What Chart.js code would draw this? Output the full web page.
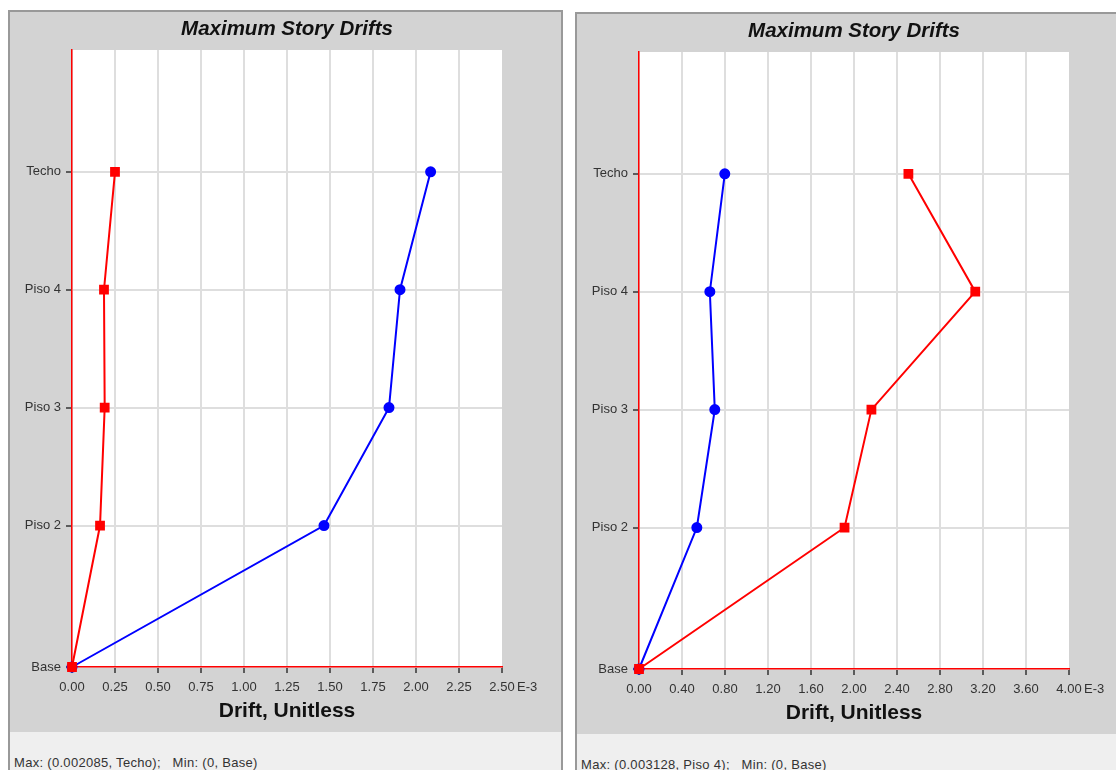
<!DOCTYPE html>
<html>
<head>
<meta charset="utf-8">
<script src="https://cdn.jsdelivr.net/npm/chart.js@4"></script>
<style>
    html, body { margin: 0; padding: 0; background: #fff; }
    body { width: 1116px; height: 770px; overflow: hidden; position: relative; font-family: "Liberation Sans", Arial, sans-serif; }
    .panel { position: absolute; box-sizing: border-box; width: 555px; height: 800px; border: 2px solid #999; border-bottom: none; background: #efefef; }
    .plotbox { width: 551px; height: 720px; background: #d3d3d3; }
    .maxtext { position: absolute; left: 4px; font-size: 13px; letter-spacing: 0.3px; color: #333; white-space: pre; }
</style>
</head>
<body>
<div class="panel" style="left:8px; top:10px;">
    <div class="plotbox"><canvas id="leftChart" width="551" height="720"></canvas></div>
    <div class="maxtext" style="top:743px;">Max: (0.002085, Techo);   Min: (0, Base)</div>
</div>
<div class="panel" style="left:575px; top:12px;">
    <div class="plotbox"><canvas id="rightChart" width="551" height="720"></canvas></div>
    <div class="maxtext" style="top:743px;">Max: (0.003128, Piso 4);   Min: (0, Base)</div>
</div>
<script>
// story names and elevations (m)
const storyNames = ['Base', 'Piso 2', 'Piso 3', 'Piso 4', 'Techo'];
const storyElev = [0, 3.6, 6.6, 9.6, 12.6];

// drifts, in units of E-3
const leftBlueDrift = [0, 1.465, 1.843, 1.907, 2.085];
const leftRedDrift = [0, 0.163, 0.190, 0.186, 0.250];
const rightBlueDrift = [0, 0.538, 0.705, 0.659, 0.798];
const rightRedDrift = [0, 1.912, 2.162, 3.128, 2.506];

// x axis ranges (E-3)
const leftAxis = [0, 2.5, 0.25];   // min, max, step
const rightAxis = [0, 4.0, 0.4];

const FONT = "'Liberation Sans', Arial, sans-serif";

// white plot area + the "E-3" suffix after the last tick
const plotBgPlugin = {
    id: 'plotBg',
    beforeDraw(chart) {
        let a = chart.chartArea;
        let ctx = chart.ctx;
        ctx.save();
        ctx.fillStyle = '#ffffff';
        ctx.fillRect(a.left, a.top, a.right - a.left, a.bottom - a.top);
        ctx.restore();
    },
    afterDraw(chart) {
        let xs = chart.scales.x;
        let ctx = chart.ctx;
        ctx.save();
        ctx.font = '13px ' + FONT;
        ctx.fillStyle = '#333';
        ctx.textAlign = 'left';
        ctx.textBaseline = 'middle';
        ctx.fillText('E-3', xs.right + 15, xs.top + 6 + 7 + 7);
        ctx.restore();
    }
};

function toPoints(drifts) {
    return drifts.map((d, i) => ({ x: d, y: storyElev[i] }));
}

function makeChart(id, blue, red, axis) {
    return new Chart(document.getElementById(id), {
        type: 'scatter',
        data: {
            datasets: [{
                label: 'X',
                data: toPoints(blue),
                order: 2,
                showLine: true,
                borderColor: '#0000ff',
                backgroundColor: '#0000ff',
                borderWidth: 2,
                pointStyle: 'circle',
                pointRadius: 4.5,
                clip: false,
            }, {
                label: 'Y',
                data: toPoints(red),
                order: 1,
                showLine: true,
                borderColor: '#ff0000',
                backgroundColor: '#ff0000',
                borderWidth: 2,
                pointStyle: 'rect',
                pointRadius: 5.5,
                clip: false,
            }],
        },
        options: {
            responsive: false,
            animation: false,
            events: [],
            layout: { padding: { left: 0, right: 59, top: 0, bottom: 0 } },
            plugins: {
                legend: { display: false },
                tooltip: { enabled: false },
                title: {
                    display: true,
                    fullSize: false,
                    text: 'Maximum Story Drifts',
                    color: '#111',
                    font: { family: FONT, size: 20.5, weight: 'bold', style: 'italic' },
                    padding: { top: 5, bottom: 8.4 },
                },
            },
            scales: {
                x: {
                    type: 'linear',
                    min: axis[0],
                    max: axis[1],
                    afterFit: (s) => { s.height = 65; },
                    border: { color: '#ff0000', width: 1.5 },
                    grid: {
                        color: (c) => (c.tick && c.tick.value >= axis[1] - 1e-9) ? 'rgba(0,0,0,0)' : '#dedede',
                        lineWidth: 2,
                        tickColor: '#333',
                        tickLength: 6,
                        tickWidth: 1.5,
                    },
                    ticks: {
                        stepSize: axis[2],
                        autoSkip: false,
                        maxRotation: 0,
                        padding: 7,
                        color: '#333',
                        font: { family: FONT, size: 13 },
                        callback: (v) => v.toFixed(2),
                    },
                    title: {
                        display: true,
                        text: 'Drift, Unitless',
                        color: '#111',
                        font: { family: FONT, size: 21, weight: 'bold' },
                        padding: { top: 0, bottom: 8 },
                    },
                },
                y: {
                    type: 'linear',
                    min: 0,
                    max: 15.7,
                    afterFit: (s) => { s.width = 62; },
                    afterBuildTicks: (s) => { s.ticks = storyElev.map(v => ({ value: v })); },
                    border: { color: '#ff0000', width: 1.5 },
                    grid: {
                        color: '#dedede',
                        lineWidth: 2,
                        tickColor: '#333',
                        tickLength: 6,
                        tickWidth: 1.5,
                    },
                    ticks: {
                        autoSkip: false,
                        padding: 5,
                        color: '#333',
                        font: { family: FONT, size: 13 },
                        callback: (v) => storyNames[storyElev.indexOf(v)],
                    },
                },
            },
        },
        plugins: [plotBgPlugin],
    });
}

makeChart('leftChart', leftBlueDrift, leftRedDrift, leftAxis);
makeChart('rightChart', rightBlueDrift, rightRedDrift, rightAxis);
</script>
</body>
</html>
